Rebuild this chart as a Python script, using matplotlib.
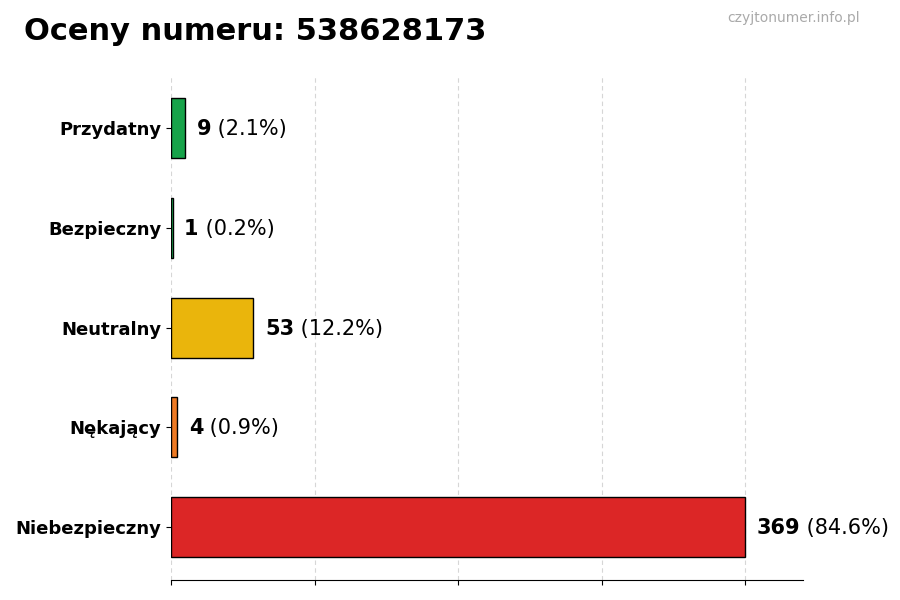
import matplotlib.pyplot as plt
import numpy as np

categories = ['Przydatny', 'Bezpieczny', 'Neutralny', 'Nękający', 'Niebezpieczny']
counts = [9, 1, 53, 4, 369]
percents = ['2.1%', '0.2%', '12.2%', '0.9%', '84.6%']
colors = ['#17a34a', '#22c55e', '#eab50c', '#ee7a24', '#dc2626']

fig = plt.figure(figsize=(9, 6), dpi=100)
ax = fig.add_axes([0.19, 0.033, 0.702, 0.842])

y = np.arange(len(categories))[::-1]
ax.barh(y, counts, height=0.6, color=colors, edgecolor='black', linewidth=1)

ax.set_yticks(y)
ax.set_yticklabels(categories, fontsize=13, fontweight='bold')
top = max(counts)
ax.set_xlim(0, top * 1.1)
ax.set_xticks(np.linspace(0, top, 5))
ax.set_xticklabels([])
ax.grid(axis='x', linestyle=(0, (4, 3)), color='#d6d6d6', linewidth=0.8)
ax.set_axisbelow(True)
for s in ['top', 'right', 'left']:
    ax.spines[s].set_visible(False)

# value labels: bold count, then percentage in normal weight
for yi, c, p in zip(y, counts, percents):
    t = ax.text(c + top * 0.02, yi + 0.01, str(c), fontsize=15, fontweight='bold',
                va='center_baseline', ha='left')
    ax.annotate(f' ({p})', xy=(1, 0.5), xycoords=t, fontsize=15,
                va='center', ha='left')

fig.text(0.027, 0.948, 'Oceny numeru: 538628173', fontsize=22, fontweight='bold',
         va='center', ha='left')
fig.text(0.955, 0.97, 'czyjtonumer.info.pl', fontsize=10, color='#aaaaaa',
         va='center', ha='right')

fig.savefig('out.png', dpi=100)
